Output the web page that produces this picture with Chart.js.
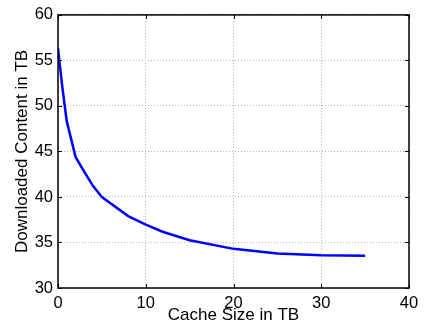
<!DOCTYPE html>
<html lang="en">
<head>
  <meta charset="UTF-8">
  <title>Downloaded Content vs Cache Size</title>
  <style>
    body {
      margin: 0;
      padding: 0;
      background-color: #fff;
    }
    #wrap {
      width: 425px;
      height: 331px;
    }
  </style>
</head>
<body>
  <div id="wrap">
    <canvas id="cacheChart" width="425" height="331"></canvas>
  </div>

  <script src="https://cdn.jsdelivr.net/npm/chart.js"></script>
  <script>
    // values
    const cacheSize = [0, 0.5, 1, 2, 3, 4, 5, 8, 10, 12, 15, 20, 25, 30, 35];
    const downloaded = [56.3, 52.0, 48.3, 44.4, 42.75, 41.2, 40.0, 37.9, 36.95, 36.15, 35.25, 34.3, 33.8, 33.6, 33.55];
    const xTicks = [0, 10, 20, 30, 40];
    const yTicks = [30, 35, 40, 45, 50, 55, 60];

    const points = cacheSize.map((x, i) => ({ x: x, y: downloaded[i] }));

    const fontFamily = '"Liberation Sans", Arial, Helvetica, sans-serif';

    // MATLAB style box with ticks pointing inwards
    const boxPlugin = {
      id: 'boxTicks',
      afterDraw(chart) {
        const ctx = chart.ctx;
        const area = chart.chartArea;
        const xs = chart.scales.x;
        const ys = chart.scales.y;
        const len = 4;
        ctx.save();
        ctx.strokeStyle = '#000';
        ctx.lineWidth = 1;
        ctx.beginPath();
        xTicks.forEach(v => {
          const px = Math.round(xs.getPixelForValue(v)) + 0.5;
          ctx.moveTo(px, area.bottom);
          ctx.lineTo(px, area.bottom - len);
          ctx.moveTo(px, area.top);
          ctx.lineTo(px, area.top + len);
        });
        yTicks.forEach(v => {
          const py = Math.round(ys.getPixelForValue(v)) + 0.5;
          ctx.moveTo(area.left, py);
          ctx.lineTo(area.left + len, py);
          ctx.moveTo(area.right, py);
          ctx.lineTo(area.right - len, py);
        });
        ctx.stroke();
        ctx.lineWidth = 1.5;
        ctx.strokeRect(area.left, area.top, area.right - area.left, area.bottom - area.top);
        ctx.restore();
      }
    };

    const ctx = document.getElementById('cacheChart').getContext('2d');

    new Chart(ctx, {
      type: 'line',
      data: {
        datasets: [{
          data: points,
          borderColor: '#0000ff',
          borderWidth: 2.5,
          pointRadius: 0,
          fill: false,
          tension: 0
        }]
      },
      options: {
        responsive: false,
        animation: false,
        layout: {
          padding: { left: 0, top: 13, right: 16, bottom: 0 }
        },
        plugins: {
          legend: { display: false },
          tooltip: { enabled: false }
        },
        scales: {
          x: {
            type: 'linear',
            min: 0,
            max: 40,
            afterFit: s => { s.height = 43; },
            afterBuildTicks: s => { s.ticks = xTicks.map(v => ({ value: v })); },
            grid: {
              color: '#b4b4b4',
              lineWidth: 1,
              drawTicks: false
            },
            border: { display: false, dash: [1, 2] },
            ticks: {
              color: '#000',
              padding: 6,
              maxRotation: 0,
              font: { family: fontFamily, size: 16.5 }
            },
            title: {
              display: true,
              text: 'Cache Size in TB',
              color: '#000',
              padding: { top: 0, bottom: 5 },
              font: { family: fontFamily, size: 17 }
            }
          },
          y: {
            type: 'linear',
            min: 30,
            max: 60,
            afterFit: s => { s.width = 58; },
            afterBuildTicks: s => { s.ticks = yTicks.map(v => ({ value: v })); },
            grid: {
              color: '#b4b4b4',
              lineWidth: 1,
              drawTicks: false
            },
            border: { display: false, dash: [1, 2] },
            ticks: {
              color: '#000',
              padding: 5,
              font: { family: fontFamily, size: 16.5 }
            },
            title: {
              display: true,
              text: 'Downloaded Content in TB',
              color: '#000',
              padding: { top: 12, bottom: 0 },
              font: { family: fontFamily, size: 17 }
            }
          }
        }
      },
      plugins: [boxPlugin]
    });
  </script>
</body>
</html>
